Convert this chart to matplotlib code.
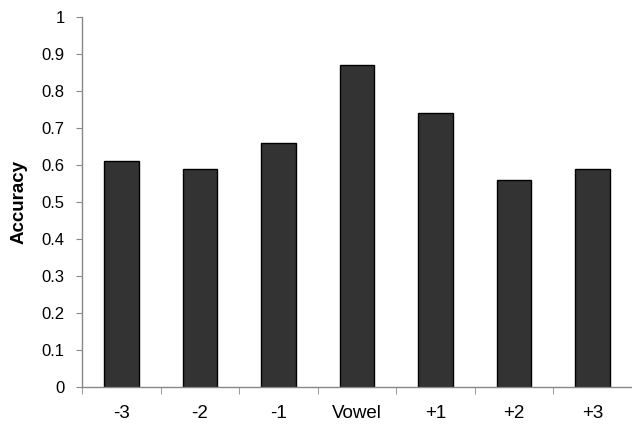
import numpy as np
import matplotlib.pyplot as plt

# Datos
categories = ['-3', '-2', '-1', 'Vowel', '+1', '+2', '+3']
accuracy = [0.61, 0.59, 0.66, 0.87, 0.74, 0.56, 0.59]

plt.rcParams['font.family'] = ['Liberation Sans', 'DejaVu Sans']

fig = plt.figure(figsize=(6.32, 4.25), dpi=100)
ax = fig.add_axes([0.13, 0.089, 0.87, 0.871])

x = np.arange(len(categories))
ax.bar(x, accuracy, width=0.44, color='#333333', edgecolor='black', linewidth=1)

ax.set_xlim(-0.5, len(categories) - 0.5)
ax.set_ylim(0, 1)
ax.set_yticks(np.arange(0, 1.01, 0.1))
ax.set_yticklabels(['0'] + [f'{v:.1f}' for v in np.arange(0.1, 0.95, 0.1)] + ['1'])

# etiquetas de categoria sin tick, ticks entre categorias
ax.set_xticks(x)
ax.set_xticklabels(categories)
ax.tick_params(axis='x', length=0, pad=13, labelsize=13.5)
ax.set_xticks(np.arange(-0.5, len(categories)), minor=True)
ax.tick_params(axis='x', which='minor', length=5, color='#888888', direction='out')
ax.tick_params(axis='y', length=4.5, color='#888888', labelsize=12, pad=8)

for s in ['top', 'right']:
    ax.spines[s].set_visible(False)
for s in ['left', 'bottom']:
    ax.spines[s].set_color('#888888')
    ax.spines[s].set_linewidth(1)

ax.set_ylabel('Accuracy', fontsize=13.5, fontweight='bold', labelpad=10)

fig.savefig('out.png', dpi=100)
